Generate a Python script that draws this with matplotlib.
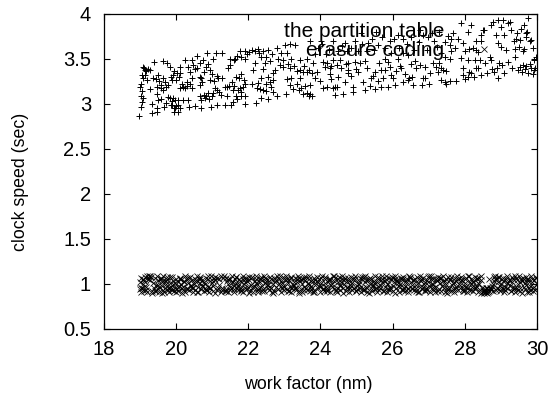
import matplotlib

matplotlib.use("Agg")
import matplotlib.pyplot as plt

partition_x = [
    18.99, 19.04, 19.01, 19.06, 19.04, 19.10, 19.07, 19.33, 19.52, 19.30, 19.47, 19.65,
    19.58, 19.49, 19.70, 19.65, 19.89, 19.93, 19.98, 19.84, 19.68, 19.91, 19.98, 19.95,
    20.12, 20.07, 19.47, 19.33, 19.49, 20.37, 20.53, 20.71, 20.97, 21.15, 21.36, 21.54,
    21.59, 21.70, 21.91, 22.22, 22.37, 22.56, 19.10, 19.15, 19.29, 19.40, 19.65, 19.75,
    19.84, 19.06, 19.21, 19.15, 19.52, 20.12, 19.93, 20.12, 20.02, 20.16, 20.12, 20.25,
    20.44, 20.25, 20.44, 20.58, 20.48, 20.35, 20.67, 20.76, 20.87, 21.04, 21.11, 21.27,
    21.50, 21.64, 21.91, 21.77, 21.91, 22.10, 22.28, 22.31, 22.56, 22.79, 23.02, 23.16,
    23.30, 23.07, 22.83, 22.97, 23.20, 23.43, 23.62, 22.19, 22.47, 22.42, 22.14, 22.74,
    22.70, 22.97, 23.16, 23.43, 23.62, 23.76, 23.85, 23.99, 23.43, 23.71, 23.20, 23.07,
    22.70, 22.51, 22.37, 22.28, 22.10, 22.24, 22.42, 22.65, 22.79, 23.04, 23.16, 23.25,
    23.53, 23.48, 23.76, 22.70, 21.50, 21.45, 20.95, 20.78, 21.13, 20.95, 20.71, 20.67,
    20.44, 20.30, 21.27, 21.68, 21.82, 21.91, 21.77, 21.41, 21.13, 21.36, 21.59, 21.91,
    21.82, 21.68, 21.41, 20.85, 20.67, 20.81, 20.99, 20.71, 20.35, 20.21, 20.07, 24.08,
    24.36, 24.31, 24.26, 24.12, 24.08, 24.36, 23.71, 24.03, 23.80, 24.45, 23.53,
    24.40, 24.63, 24.91, 25.23, 25.51, 25.69, 25.87, 26.06, 26.29, 26.43, 26.57, 26.81,
    27.44, 27.58, 27.76, 27.35, 27.49, 26.84, 26.91, 26.89, 26.66, 26.45, 26.24, 25.97,
    25.69, 25.51, 25.74, 25.41, 25.18, 24.91, 24.68, 24.45, 25.05, 24.77, 24.77, 24.95,
    25.23, 24.77, 24.54, 25.64, 25.78, 25.87, 26.15, 26.43, 26.61, 27.12, 27.30, 27.44,
    27.58, 27.35, 27.49, 27.26, 27.90, 28.09, 28.27, 28.41, 27.95, 28.13, 28.36, 28.46,
    27.95, 28.18, 28.73, 28.69, 28.96, 29.19, 29.38, 29.52, 29.61, 29.84, 29.93, 29.75,
    29.47, 29.10, 28.82, 28.92, 29.98, 29.93, 29.88, 29.65, 29.38, 29.15, 28.92, 29.10,
    29.28, 29.42, 29.70, 29.65, 29.75, 29.24, 29.05, 28.92, 28.78, 28.73, 28.87, 28.50,
    28.46, 28.46, 28.32, 28.32, 28.13, 27.95, 27.90, 28.18, 28.09, 27.67, 27.63, 27.58,
    27.63, 27.35, 27.16, 26.98, 26.75, 26.29, 26.15, 25.92, 25.60, 25.32, 24.95, 24.68,
    25.14, 25.55, 26.29, 29.84, 29.52, 29.70, 29.01, 29.19,
    19.12, 19.18, 19.24, 19.08, 19.03, 19.37, 19.44, 19.55, 19.60, 19.72, 19.78, 19.86,
    19.96, 20.04, 20.09, 20.20, 20.30, 20.40, 19.60, 19.72, 19.78, 19.86, 19.94, 20.02,
    20.05, 19.90, 20.40, 20.52, 20.60, 20.66, 20.74, 20.83, 20.90, 21.00, 21.06, 21.18,
    20.78, 20.88, 20.92, 21.02, 21.08, 21.20, 21.25, 21.48, 21.55, 21.62, 21.72, 21.80,
    21.85, 21.88, 21.75, 21.60, 21.70, 21.82, 21.98, 22.04, 22.18, 22.35, 22.42, 22.50,
    22.60, 22.66, 22.90, 22.88, 23.10, 23.28, 23.36, 23.55, 23.68, 23.90, 22.55, 22.33,
    22.50, 22.60, 23.35, 23.42, 23.58, 23.62, 23.70, 23.73, 24.18, 24.28, 24.30, 24.20,
    24.42, 24.50, 24.58, 24.72, 24.84, 24.98, 25.10, 25.30, 25.38, 25.45, 25.60, 25.80,
    25.92, 26.02, 26.10, 26.20, 26.35, 26.50, 26.54, 26.76, 27.00, 27.05, 27.20, 27.40,
    23.85, 23.95, 24.05, 24.15, 24.25, 24.35, 24.50, 24.60, 24.75, 24.85, 25.05, 25.15,
    25.30, 25.42, 25.50, 25.70, 25.80, 25.95, 26.05, 26.18, 26.40, 26.52, 26.60, 26.72,
    26.85, 26.95, 27.08, 27.22, 27.30, 27.45, 27.55, 27.72, 27.82, 28.02, 28.22, 28.38,
    28.00, 28.10, 28.25, 28.30, 28.55, 28.62, 28.75, 28.88, 29.02, 29.30, 29.58, 29.66,
    29.70, 29.80, 29.90, 29.95, 29.60, 29.50, 29.45, 29.55, 29.72, 29.82, 29.00, 29.35,
]
partition_y = [
    2.86, 2.96, 3.19, 3.14, 3.09, 3.06, 3.02, 3.00, 3.04, 3.16, 3.11, 3.15,
    3.21, 3.19, 3.24, 3.28, 3.26, 3.06, 3.04, 3.06, 2.96, 2.98, 2.95, 2.91,
    2.95, 2.91, 2.95, 2.90, 2.91, 2.96, 2.97, 2.95, 2.96, 2.99, 2.99, 2.99,
    3.02, 3.05, 3.00, 3.01, 3.06, 3.05, 3.41, 3.37, 3.37, 3.46, 3.47, 3.45,
    3.41, 3.32, 3.26, 3.32, 3.32, 3.41, 3.32, 3.34, 3.26, 3.22, 3.17, 3.17,
    3.17, 3.48, 3.48, 3.53, 3.43, 3.41, 3.45, 3.48, 3.56, 3.50, 3.56, 3.56,
    3.50, 3.50, 3.49, 3.58, 3.58, 3.60, 3.61, 3.56, 3.60, 3.62, 3.65, 3.66,
    3.65, 3.56, 3.50, 3.48, 3.50, 3.48, 3.50, 3.45, 3.45, 3.38, 3.37, 3.37,
    3.34, 3.41, 3.39, 3.37, 3.35, 3.34, 3.29, 3.25, 3.28, 3.21, 3.29, 3.27,
    3.26, 3.22, 3.28, 3.23, 3.22, 3.17, 3.15, 3.19, 3.09, 3.11, 3.21, 3.16,
    3.11, 3.17, 3.08, 3.13, 3.43, 3.39, 3.37, 3.35, 3.31, 3.26, 3.28, 3.21,
    3.28, 3.24, 3.28, 3.30, 3.33, 3.22, 3.17, 3.18, 3.15, 3.19, 3.15, 3.08,
    3.09, 3.09, 3.09, 3.09, 3.09, 3.06, 3.09, 3.04, 3.04, 3.04, 3.04, 3.17,
    3.17, 3.27, 3.39, 3.41, 3.46, 3.48, 3.69, 3.69, 3.45, 3.43, 3.35,
    3.10, 3.11, 3.13, 3.15, 3.16, 3.19, 3.18, 3.21, 3.24, 3.26, 3.21, 3.21,
    3.24, 3.25, 3.25, 3.26, 3.22, 3.29, 3.28, 3.41, 3.39, 3.29, 3.39, 3.32,
    3.37, 3.35, 3.29, 3.28, 3.24, 3.18, 3.24, 3.19, 3.35, 3.37, 3.34, 3.46,
    3.47, 3.45, 3.48, 3.45, 3.50, 3.46, 3.50, 3.54, 3.47, 3.45, 3.45, 3.52,
    3.50, 3.39, 3.36, 3.35, 3.51, 3.48, 3.48, 3.48, 3.39, 3.35, 3.39, 3.32,
    3.32, 3.34, 3.48, 3.52, 3.45, 3.46, 3.52, 3.41, 3.43, 3.39, 3.37, 3.34,
    3.37, 3.34, 3.35, 3.28, 3.52, 3.48, 3.62, 3.61, 3.61, 3.59, 3.67, 3.76,
    3.82, 3.72, 3.78, 3.87, 3.95, 3.91, 3.93, 3.93, 3.91, 3.87, 3.76, 3.82,
    3.76, 3.69, 3.69, 3.59, 3.61, 3.67, 3.89, 3.87, 3.79, 3.78, 3.72, 3.65,
    3.58, 3.56, 3.69, 3.74, 3.82, 3.72, 3.76, 3.69, 3.65, 3.67, 3.69, 3.67,
    3.78, 3.80, 3.56, 3.71, 3.71, 3.74, 3.63, 3.89,
    3.40, 3.36, 3.38, 3.29, 3.22, 3.28, 3.27, 3.25, 3.17, 3.19, 3.21, 3.30,
    3.36, 3.34, 3.30, 3.19, 3.20, 3.22, 3.05, 3.01, 3.07, 2.98, 2.95, 2.97,
    2.99, 3.03, 3.35, 3.38, 3.40, 3.30, 3.24, 3.41, 3.44, 3.33, 3.25, 3.28,
    3.10, 3.12, 3.05, 3.12, 3.17, 3.13, 3.10, 3.20, 3.24, 3.20, 3.15, 3.13,
    3.19, 3.26, 3.28, 3.48, 3.53, 3.52, 3.55, 3.57, 3.58, 3.52, 3.58, 3.52,
    3.47, 3.55, 3.56, 3.43, 3.44, 3.42, 3.36, 3.42, 3.37, 3.35, 3.30, 3.16,
    3.14, 3.24, 3.22, 3.15, 3.20, 3.12, 3.09, 3.11, 3.45, 3.33, 3.42, 3.18,
    3.18, 3.30, 3.39, 3.44, 3.31, 3.38, 3.45, 3.40, 3.20, 3.31, 3.25, 3.37,
    3.41, 3.28, 3.36, 3.42, 3.33, 3.44, 3.30, 3.43, 3.22, 3.34, 3.41, 3.37,
    3.55, 3.62, 3.66, 3.55, 3.60, 3.70, 3.58, 3.64, 3.58, 3.62, 3.58, 3.66,
    3.58, 3.72, 3.60, 3.74, 3.62, 3.56, 3.72, 3.62, 3.66, 3.74, 3.60, 3.68,
    3.76, 3.60, 3.78, 3.63, 3.80, 3.68, 3.75, 3.62, 3.72, 3.58, 3.62, 3.57,
    3.27, 3.30, 3.30, 3.40, 3.45, 3.34, 3.38, 3.40, 3.43, 3.39, 3.35, 3.38,
    3.42, 3.44, 3.33, 3.40, 3.58, 3.63, 3.78, 3.83, 3.80, 3.70, 3.85, 3.70,
]

erasure_x = [
    19.00, 19.02, 19.05, 19.03, 19.08, 19.10, 19.07, 19.13, 19.16, 19.12,
    19.19, 19.17, 19.22, 19.25, 19.21, 19.28, 19.40, 19.43, 19.38, 19.46,
    19.48, 19.45, 19.52, 19.50, 19.55, 19.58, 19.53, 19.61, 19.60, 19.64,
    19.66, 19.62, 19.69, 19.72, 19.68, 19.75, 19.74, 19.78, 19.81, 19.77,
    19.84, 19.82, 19.87, 19.90, 19.86, 19.93, 19.96, 19.92, 19.99, 20.02,
    20.00, 20.05, 20.03, 20.08, 20.11, 20.07, 20.14, 20.17, 20.13, 20.20,
    20.23, 20.19, 20.26, 20.29, 20.25, 20.32, 20.35, 20.31, 20.38, 20.41,
    20.44, 20.40, 20.47, 20.50, 20.46, 20.53, 20.56, 20.52, 20.59, 20.62,
    20.65, 20.61, 20.68, 20.71, 20.67, 20.74, 20.77, 20.73, 20.80, 20.83,
    20.86, 20.82, 20.89, 20.92, 20.88, 20.95, 20.98, 20.94, 21.01, 21.04,
    21.07, 21.03, 21.10, 21.13, 21.09, 21.16, 21.19, 21.24, 21.36, 21.40,
    21.43, 21.39, 21.46, 21.49, 21.45, 21.52, 21.55, 21.51, 21.58, 21.61,
    21.64, 21.60, 21.67, 21.70, 21.66, 21.73, 21.76, 21.72, 21.79, 21.82,
    21.85, 21.81, 21.88, 21.91, 21.87, 21.94, 21.97, 21.93, 22.00, 22.03,
    22.06, 22.02, 22.09, 22.12, 22.08, 22.15, 22.18, 22.14, 22.21, 22.24,
    22.27, 22.23, 22.30, 22.33, 22.29, 22.36, 22.39, 22.35, 22.42, 22.45,
    22.48, 22.44, 22.51, 22.54, 22.50, 22.57, 22.60, 22.56, 22.63, 22.66,
    22.69, 22.65, 22.72, 22.75, 22.71, 22.78, 22.81, 22.77, 22.84, 22.87,
    22.90, 22.86, 22.93, 22.96, 22.92, 22.99, 23.02, 22.98, 23.05, 23.08,
    23.11, 23.07, 23.14, 23.17, 23.13, 23.20, 23.23, 23.19, 23.26, 23.29,
    23.32, 23.28, 23.35, 23.38, 23.34, 23.41, 23.44, 23.40, 23.47, 23.50,
    23.53, 23.49, 23.56, 23.59, 23.55, 23.62, 23.65, 23.61, 23.68, 23.71,
    23.74, 23.70, 23.77, 23.80, 23.76, 23.83, 23.86, 23.82, 23.89, 23.92,
    23.95, 23.91, 23.98, 24.01, 23.97, 24.04, 24.07, 24.03, 24.10, 24.13,
    24.16, 24.12, 24.19, 24.22, 24.18, 24.25, 24.28, 24.24, 24.31, 24.34,
    24.37, 24.33, 24.40, 24.43, 24.39, 24.46, 24.49, 24.45, 24.52, 24.55,
    24.58, 24.54, 24.61, 24.64, 24.60, 24.67, 24.70, 24.66, 24.73, 24.76,
    24.79, 24.75, 24.82, 24.85, 24.81, 24.88, 24.91, 24.87, 24.94, 24.97,
    25.00, 24.96, 25.03, 25.06, 25.02, 25.09, 25.12, 25.08, 25.15, 25.18,
    25.21, 25.17, 25.24, 25.27, 25.23, 25.30, 25.33, 25.29, 25.36, 25.39,
    25.42, 25.38, 25.45, 25.48, 25.44, 25.51, 25.54, 25.50, 25.57, 25.60,
    25.63, 25.59, 25.66, 25.69, 25.65, 25.72, 25.75, 25.71, 25.78, 25.81,
    25.84, 25.80, 25.87, 25.90, 25.86, 25.93, 25.96, 25.92, 25.99, 26.02,
    26.05, 26.01, 26.08, 26.11, 26.07, 26.14, 26.17, 26.13, 26.20, 26.23,
    26.26, 26.22, 26.29, 26.32, 26.28, 26.35, 26.38, 26.34, 26.41, 26.44,
    26.47, 26.43, 26.50, 26.53, 26.49, 26.56, 26.59, 26.55, 26.62, 26.65,
    26.68, 26.64, 26.71, 26.74, 26.70, 26.77, 26.80, 26.76, 26.83, 26.86,
    26.89, 26.85, 26.92, 26.95, 26.91, 26.98, 27.01, 26.97, 27.04, 27.07,
    27.10, 27.06, 27.13, 27.16, 27.12, 27.19, 27.22, 27.18, 27.25, 27.28,
    27.31, 27.27, 27.34, 27.37, 27.33, 27.40, 27.43, 27.39, 27.46, 27.49,
    27.52, 27.48, 27.55, 27.58, 27.54, 27.61, 27.64, 27.60, 27.67, 27.70,
    27.73, 27.69, 27.76, 27.79, 27.75, 27.82, 27.85, 27.81, 27.88, 27.91,
    27.94, 27.90, 27.97, 28.00, 27.96, 28.03, 28.06, 28.02, 28.09, 28.12,
    28.15, 28.11, 28.18, 28.21, 28.17, 28.24, 28.27, 28.23, 28.30, 28.33,
    28.36, 28.32, 28.39, 28.42, 28.38, 28.45, 28.48, 28.44, 28.51, 28.62,
    28.66, 28.70, 28.64, 28.73, 28.76, 28.72, 28.79, 28.82, 28.78, 28.85,
    28.88, 28.84, 28.91, 28.94, 28.90, 28.97, 29.00, 28.96, 29.03, 29.06,
    29.09, 29.05, 29.12, 29.15, 29.11, 29.18, 29.21, 29.17, 29.24, 29.27,
    29.30, 29.26, 29.33, 29.36, 29.32, 29.39, 29.42, 29.38, 29.45, 29.48,
    29.51, 29.47, 29.54, 29.57, 29.53, 29.60, 29.63, 29.59, 29.66, 29.69,
    29.72, 29.68, 29.75, 29.78, 29.74, 29.81, 29.84, 29.80, 29.87, 29.90,
    29.93, 29.89, 29.96, 29.99, 29.95, 29.98, 29.92, 29.86, 29.77, 29.71,
    19.31, 19.35, 19.27, 19.33, 19.29, 21.27, 21.31, 21.25, 21.33, 21.29,
    28.54, 28.56, 28.58, 28.60, 28.52, 28.62, 28.57, 28.53, 28.61, 28.55,
    19.04, 19.09, 19.15, 19.20, 19.42, 19.50, 19.57, 19.63, 19.70, 19.79,
    19.85, 19.91, 19.97, 20.06, 20.12, 20.18, 20.24, 20.30, 20.37, 20.43,
    20.49, 20.55, 20.60, 20.66, 20.72, 20.78, 20.84, 20.90, 20.96, 21.02,
    21.08, 21.14, 21.20, 21.38, 21.44, 21.50, 21.56, 21.62, 21.68, 21.74,
    21.80, 21.86, 21.92, 21.98, 22.04, 22.10, 22.16, 22.22, 22.28, 22.34,
    22.40, 22.46, 22.52, 22.58, 22.64, 22.70, 22.76, 22.82, 22.88, 22.94,
    23.00, 23.06, 23.12, 23.18, 23.24, 23.30, 23.36, 23.42, 23.48, 23.54,
    23.60, 23.66, 23.72, 23.78, 23.84, 23.90, 23.96, 24.02, 24.08, 24.14,
    24.20, 24.26, 24.32, 24.38, 24.44, 24.50, 24.56, 24.62, 24.68, 24.74,
    24.80, 24.86, 24.92, 24.98, 25.04, 25.10, 25.16, 25.22, 25.28, 25.34,
    25.40, 25.46, 25.52, 25.58, 25.64, 25.70, 25.76, 25.82, 25.88, 25.94,
    26.00, 26.06, 26.12, 26.18, 26.24, 26.30, 26.36, 26.42, 26.48, 26.54,
    26.60, 26.66, 26.72, 26.78, 26.84, 26.90, 26.96, 27.02, 27.08, 27.14,
    27.20, 27.26, 27.32, 27.38, 27.44, 27.50, 27.56, 27.62, 27.68, 27.74,
    27.80, 27.86, 27.92, 27.98, 28.04, 28.10, 28.16, 28.22, 28.28, 28.34,
    28.40, 28.46, 28.68, 28.74, 28.80, 28.86, 28.92, 28.98, 29.04, 29.10,
    29.16, 29.22, 29.28, 29.34, 29.40, 29.46, 29.52, 29.58, 29.64, 29.70,
]
erasure_y = [
    1.02, 0.94, 1.07, 0.91, 1.00, 1.05, 0.96, 0.92, 1.08, 1.03,
    0.97, 0.93, 1.06, 1.09, 0.91, 1.04, 0.95, 1.07, 1.01, 0.92,
    1.09, 0.99, 1.04, 0.94, 0.91, 1.07, 0.97, 1.02, 1.06, 0.93,
    1.09, 0.98, 0.95, 1.03, 0.91, 1.08, 1.00, 0.93, 0.96, 1.05,
    1.01, 0.91, 0.97, 1.08, 0.94, 1.03, 0.92, 1.00, 0.96, 1.06,
    0.91, 1.02, 0.94, 0.98, 1.05, 0.92, 1.00, 0.95, 1.07, 0.93,
    1.03, 0.97, 0.91, 1.05, 1.09, 0.95, 1.01, 1.07, 0.93, 0.98,
    1.04, 1.08, 0.91, 1.00, 0.95, 1.06, 1.02, 0.93, 1.09, 0.97,
    1.05, 0.91, 1.01, 0.94, 1.08, 0.98, 0.92, 1.04, 0.96, 1.07,
    0.93, 1.00, 1.06, 0.91, 0.97, 1.03, 1.09, 0.95, 1.01, 0.92,
    1.07, 0.98, 1.04, 0.93, 1.08, 0.96, 1.06, 1.09, 0.92, 1.07,
    1.03, 0.94, 0.91, 1.06, 1.00, 0.96, 1.09, 0.93, 1.02, 0.98,
    1.05, 0.91, 1.08, 0.95, 1.01, 0.93, 1.06, 0.98, 1.03, 0.92,
    1.09, 0.96, 1.00, 1.05, 0.91, 1.07, 0.94, 1.02, 0.97, 1.08,
    0.92, 1.04, 0.99, 0.95, 1.07, 0.91, 1.03, 0.97, 1.09, 1.00,
    0.93, 1.06, 0.96, 1.02, 0.91, 1.08, 0.98, 1.05, 0.94, 1.09,
    1.01, 0.92, 1.06, 0.96, 1.03, 0.93, 1.08, 0.99, 1.05, 0.91,
    1.00, 0.95, 1.07, 1.02, 0.92, 0.97, 1.09, 1.04, 0.94, 1.06,
    0.91, 1.00, 0.96, 1.08, 1.03, 0.93, 1.05, 0.98, 1.09, 0.94,
    1.01, 1.06, 0.92, 0.97, 1.04, 1.08, 0.95, 0.91, 1.02, 1.07,
    0.93, 0.99, 1.05, 1.09, 0.96, 0.92, 1.03, 1.07, 0.94, 1.00,
    1.06, 0.91, 0.97, 1.04, 1.08, 0.93, 1.01, 0.95, 1.09, 0.92,
    0.98, 1.06, 1.02, 0.91, 0.96, 1.07, 1.04, 0.93, 1.00, 1.08,
    0.95, 1.03, 0.91, 0.98, 1.06, 1.09, 0.94, 1.01, 0.92, 1.05,
    0.97, 1.08, 0.93, 1.02, 0.96, 1.06, 0.91, 1.04, 0.99, 1.09,
    0.94, 1.00, 1.07, 0.92, 1.03, 0.96, 1.05, 0.91, 1.08, 0.98,
    1.02, 0.93, 1.06, 0.95, 1.09, 1.00, 0.92, 1.04, 0.97, 1.07,
    0.91, 1.03, 0.95, 1.08, 0.99, 0.93, 1.05, 1.01, 0.96, 1.09,
    0.92, 1.06, 0.98, 1.03, 0.94, 1.07, 0.91, 1.00, 1.05, 0.96,
    1.08, 0.93, 1.02, 0.97, 1.09, 0.91, 1.04, 0.95, 1.06, 1.00,
    0.92, 1.07, 0.98, 1.03, 0.94, 1.09, 0.96, 1.01, 0.91, 1.05,
    0.93, 1.08, 0.99, 1.04, 0.95, 1.06, 0.92, 1.02, 0.97, 1.09,
    0.91, 1.03, 0.94, 1.07, 1.00, 0.96, 1.05, 0.93, 1.08, 0.98,
    1.02, 0.92, 1.06, 0.95, 1.09, 1.01, 0.91, 1.04, 0.97, 1.07,
    0.93, 1.00, 1.05, 0.96, 1.08, 0.92, 1.03, 0.98, 1.06, 0.94,
    1.09, 0.91, 1.02, 0.96, 1.07, 1.04, 0.93, 0.99, 1.05, 0.92,
    1.08, 0.95, 1.01, 1.06, 0.91, 0.97, 1.03, 1.09, 0.94, 1.00,
    0.92, 1.07, 0.96, 1.04, 0.93, 1.08, 0.98, 1.02, 0.91, 1.05,
    0.95, 1.09, 1.00, 0.93, 1.06, 0.97, 1.03, 0.91, 1.08, 0.94,
    1.01, 1.05, 0.92, 0.98, 1.07, 1.03, 0.95, 1.09, 0.91, 1.00,
    0.96, 1.06, 0.93, 1.04, 1.08, 0.92, 0.99, 1.05, 0.94, 1.02,
    1.07, 0.91, 0.97, 1.09, 1.03, 0.93, 1.00, 1.06, 0.95, 1.08,
    0.92, 1.04, 0.98, 1.01, 0.94, 1.07, 0.91, 1.05, 0.96, 1.09,
    1.02, 0.93, 1.06, 0.97, 1.00, 0.92, 1.08, 1.03, 0.95, 1.05,
    0.91, 0.98, 1.07, 0.93, 1.01, 1.09, 0.96, 1.04, 0.92, 0.95,
    0.92, 0.96, 0.91, 0.94, 0.98, 0.93, 1.00, 1.08, 0.92, 1.05,
    0.96, 1.09, 1.02, 0.94, 1.06, 0.92, 1.00, 1.08, 0.95, 1.03,
    0.91, 1.07, 0.97, 1.05, 0.93, 1.09, 1.01, 0.96, 1.04, 0.92,
    1.08, 0.98, 1.06, 0.94, 1.02, 0.91, 1.07, 0.96, 1.04, 0.93,
    1.09, 1.00, 0.95, 1.05, 0.92, 1.07, 0.97, 1.03, 0.94, 1.08,
    0.91, 1.01, 1.06, 0.96, 1.03, 0.93, 1.09, 0.98, 1.05, 0.92,
    1.04, 0.95, 1.07, 1.00, 0.93, 1.08, 0.97, 1.02, 0.91, 1.06,
    1.08, 0.92, 1.06, 0.90, 1.09, 0.93, 1.07, 0.91, 1.09, 0.95,
    0.90, 0.93, 0.91, 0.95, 0.92, 0.90, 0.94, 0.92, 0.96, 0.91,
    0.95, 1.04, 0.98, 1.09, 0.92, 0.99, 1.06, 0.90, 1.03, 0.96,
    1.08, 0.93, 1.01, 0.97, 1.05, 0.90, 1.02, 0.94, 1.07, 0.99,
    0.95, 1.04, 0.91, 1.06, 0.98, 1.02, 0.93, 1.09, 0.96, 1.03,
    0.90, 1.07, 0.99, 0.92, 1.05, 0.97, 1.02, 0.94, 1.08, 1.00,
    0.93, 1.06, 0.96, 1.03, 0.90, 1.08, 0.98, 1.01, 0.94, 1.05,
    0.92, 1.07, 0.99, 1.03, 0.96, 0.90, 1.06, 0.94, 1.09, 1.01,
    0.97, 1.04, 0.92, 1.07, 0.99, 0.95, 1.02, 0.90, 1.06, 0.93,
    1.08, 1.00, 0.96, 1.04, 0.91, 1.03, 0.98, 1.07, 0.94, 1.01,
    0.92, 1.05, 0.97, 1.09, 0.93, 1.02, 0.99, 0.90, 1.07, 0.95,
    1.03, 0.98, 1.05, 0.92, 1.00, 0.96, 1.08, 0.93, 1.04, 0.90,
    1.06, 0.99, 0.94, 1.02, 0.97, 1.09, 0.92, 1.05, 1.00, 0.95,
    1.07, 0.90, 1.03, 0.98, 1.06, 0.93, 1.01, 0.96, 1.08, 0.94,
    1.04, 0.99, 0.91, 1.06, 0.97, 1.02, 0.93, 1.09, 1.00, 0.95,
    1.05, 0.92, 1.07, 0.98, 1.03, 0.90, 0.96, 1.08, 1.01, 0.94,
    1.06, 0.99, 1.04, 0.92, 0.97, 1.09, 0.93, 1.02, 0.95, 1.07,
    1.00, 0.90, 1.05, 0.96, 1.03, 0.93, 1.08, 0.98, 1.06, 0.94,
    1.01, 1.04, 0.92, 0.97, 1.09, 0.95, 1.02, 0.90, 1.06, 0.99,
]

x_ticks = [18, 20, 22, 24, 26, 28, 30]
y_ticks = [0.5, 1, 1.5, 2, 2.5, 3, 3.5, 4]

plt.rcParams["font.family"] = ["Liberation Sans", "DejaVu Sans"]

fig = plt.figure(figsize=(5.53, 3.95), dpi=100)
ax = fig.add_axes([103.5 / 553, 1 - 329 / 395, (537 - 103.5) / 553, (329 - 13.5) / 395])

ax.plot(
    partition_x, partition_y, linestyle="none", marker="+", color="black",
    markersize=4.6, markeredgewidth=0.7, label="the partition table",
)
ax.plot(
    erasure_x, erasure_y, linestyle="none", marker="x", color="black",
    markersize=4.6, markeredgewidth=0.55, label="erasure coding",
)

ax.set_xlim(18, 30)
ax.set_ylim(0.5, 4)
ax.set_xticks(x_ticks)
ax.set_yticks(y_ticks)
ax.set_yticklabels(["0.5", "1", "1.5", "2", "2.5", "3", "3.5", "4"])
ax.tick_params(direction="in", top=True, right=True, length=4, width=0.8, labelsize=14.5)
ax.tick_params(axis="x", pad=8)
ax.tick_params(axis="y", pad=9)
ax.set_xlabel("work factor (nm)", fontsize=12.8)
ax.set_ylabel("clock speed (sec)", fontsize=12.8)
ax.xaxis.set_label_coords(0.473, -0.149)
ax.yaxis.set_label_coords(-0.172, 0.4675)
for spine in ax.spines.values():
    spine.set_linewidth(0.9)

ax.legend(
    loc="upper right", frameon=False, markerfirst=False, fontsize=15,
    borderaxespad=0, borderpad=0.4, labelspacing=0.0, handlelength=1,
    handletextpad=1.4, bbox_to_anchor=(0.92, 1.0),
)

fig.savefig("out.png", dpi=100)
plt.close(fig)
